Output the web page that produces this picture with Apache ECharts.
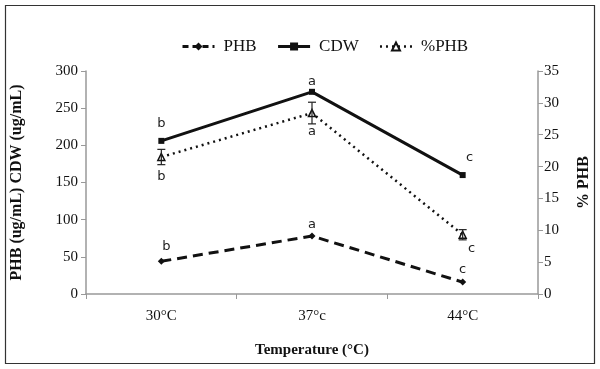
<!DOCTYPE html>
<html>
<head>
<meta charset="utf-8">
<script src="https://cdn.jsdelivr.net/npm/echarts@6/dist/echarts.min.js"></script>
<style>
html, body { margin: 0; padding: 0; background: #fff; }
#main { width: 600px; height: 369px; }
</style>
</head>
<body>
<div id="main"></div>
<script>
// data
var temps = ['30°C', '37°c', '44°C'];
var phb = [44, 78, 16];
var cdw = [206, 272, 160];
var pctPhb = [21.5, 28.4, 9.3];
var pctErr = [1.2, 1.7, 0.8];
var phbLetters = ['b', 'a', 'c'];
var cdwLetters = ['b', 'a', 'c'];
var pctLetters = ['b', 'a', 'c'];

var serif = '"Liberation Serif", "Times New Roman", serif';
var sans = '"DejaVu Sans", Verdana, sans-serif';

function withLetters(vals, letters, pos, offsets) {
    return vals.map(function (v, i) {
        return {
            value: v,
            label: {
                show: true,
                formatter: letters[i],
                position: pos,
                offset: offsets[i],
                fontFamily: sans,
                fontSize: 13,
                color: '#222'
            }
        };
    });
}

var myecharts = echarts.init(document.getElementById('main'));
var option = {
    animation: false,
    backgroundColor: '#fff',
    graphic: [{
        type: 'rect',
        shape: { x: 5.5, y: 5.5, width: 589, height: 358 },
        style: { fill: 'none', stroke: '#333', lineWidth: 1.2 },
        silent: true
    }],
    legend: {
        top: 33,
        left: 176,
        itemWidth: 32,
        itemHeight: 10,
        itemGap: 20,
        textStyle: { fontFamily: serif, fontSize: 17, color: '#111', padding: [0, 0, 0, 4] },
        data: [
            { name: 'PHB', lineStyle: { type: [6, 4], width: 3 } },
            { name: 'CDW', lineStyle: { type: 'solid', width: 3 } },
            { name: '%PHB', lineStyle: { type: [2, 4], width: 2.5 } }
        ]
    },
    grid: { left: 86, right: 59, top: 71, bottom: 75 },
    xAxis: {
        type: 'category',
        data: temps,
        boundaryGap: true,
        name: 'Temperature (°C)',
        nameLocation: 'middle',
        nameGap: 49,
        nameTextStyle: { fontFamily: serif, fontSize: 15, fontWeight: 'bold', color: '#111' },
        axisLine: { lineStyle: { color: '#999', width: 1.5 } },
        axisTick: { show: true, length: 5, lineStyle: { color: '#999' } },
        axisLabel: { fontFamily: serif, fontSize: 15, color: '#111', margin: 15 }
    },
    yAxis: [{
        type: 'value',
        min: 0, max: 300, interval: 50,
        name: 'PHB (ug/mL) CDW (ug/mL)',
        nameLocation: 'middle',
        nameGap: 61,
        nameRotate: 90,
        nameTextStyle: { fontFamily: serif, fontSize: 16, fontWeight: 'bold', color: '#111' },
        axisLine: { show: true, lineStyle: { color: '#999', width: 1.5 } },
        axisTick: { show: true, length: 5, lineStyle: { color: '#999' } },
        axisLabel: { fontFamily: serif, fontSize: 15, color: '#111', margin: 8 },
        splitLine: { show: false }
    }, {
        type: 'value',
        min: 0, max: 35, interval: 5,
        name: '% PHB',
        nameLocation: 'middle',
        nameGap: 38,
        nameRotate: 90,
        nameTextStyle: { fontFamily: serif, fontSize: 16, fontWeight: 'bold', color: '#111' },
        axisLine: { show: true, lineStyle: { color: '#999', width: 1.5 } },
        axisTick: { show: true, length: 5, lineStyle: { color: '#999' } },
        axisLabel: { fontFamily: serif, fontSize: 15, color: '#111', margin: 6 },
        splitLine: { show: false }
    }],
    series: [{
        name: 'PHB',
        type: 'line',
        data: withLetters(phb, phbLetters, 'top', [[5, 0], [0, 4], [0, 3]]),
        symbol: 'diamond',
        symbolSize: 7,
        lineStyle: { color: '#111', width: 3, type: [10, 6] },
        itemStyle: { color: '#111' },
        z: 3
    }, {
        name: 'CDW',
        type: 'line',
        data: withLetters(cdw, cdwLetters, 'top', [[0, -3], [0, 4], [7, -3]]),
        symbol: 'rect',
        symbolSize: 6,
        lineStyle: { color: '#111', width: 3, type: 'solid' },
        itemStyle: { color: '#111' },
        z: 3
    }, {
        name: '%PHB',
        type: 'line',
        yAxisIndex: 1,
        data: withLetters(pctPhb, pctLetters, 'bottom', [[0, 4], [0, 3], [9, -2]]),
        symbol: 'triangle',
        symbolSize: 7,
        lineStyle: { color: '#111', width: 2.5, type: [2, 4] },
        itemStyle: { color: '#fff', borderColor: '#111', borderWidth: 1.5 },
        z: 3
    }, {
        name: 'err',
        type: 'custom',
        yAxisIndex: 1,
        data: pctPhb.map(function (v, i) { return [i, v - pctErr[i], v + pctErr[i]]; }),
        renderItem: function (params, api) {
            var lo = api.coord([api.value(0), api.value(1)]);
            var hi = api.coord([api.value(0), api.value(2)]);
            var w = 4;
            var st = { stroke: '#222', lineWidth: 1.2 };
            return {
                type: 'group',
                children: [
                    { type: 'line', shape: { x1: lo[0], y1: lo[1], x2: hi[0], y2: hi[1] }, style: st },
                    { type: 'line', shape: { x1: lo[0] - w, y1: lo[1], x2: lo[0] + w, y2: lo[1] }, style: st },
                    { type: 'line', shape: { x1: hi[0] - w, y1: hi[1], x2: hi[0] + w, y2: hi[1] }, style: st }
                ]
            };
        },
        z: 4,
        silent: true
    }]
};
myecharts.setOption(option);
</script>
</body>
</html>
